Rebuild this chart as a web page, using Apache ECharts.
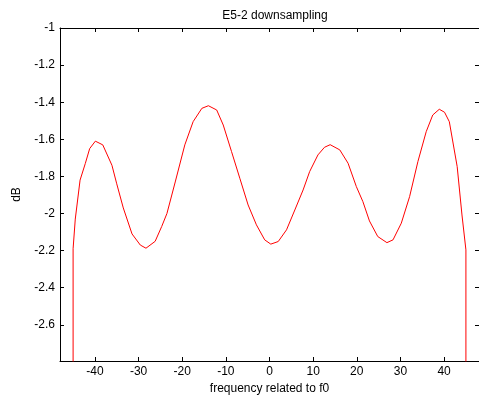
<!DOCTYPE html>
<html>
<head>
<meta charset="utf-8">
<script src="https://cdn.jsdelivr.net/npm/echarts@6/dist/echarts.min.js"></script>
<style>
html,body{margin:0;padding:0;background:#fff;}
#chart{width:479px;height:403px;}
</style>
</head>
<body>
<div id="chart"></div>
<script>
var freq = [-45, -45, -44.5, -43.4, -42.2, -41.2, -39.9, -38.2, -36.1, -35.0, -33.5, -31.5, -29.6, -28.3, -26.2, -24.7, -23.5, -21.6, -19.4, -17.5, -15.5, -14.0, -12.1, -10.6, -8.7, -6.8, -4.9, -3.0, -1.1, 0.3, 2.0, 3.9, 5.8, 7.7, 9.2, 11.1, 12.6, 13.9, 16.1, 18.0, 19.9, 21.4, 22.9, 24.8, 26.9, 28.3, 30.2, 32.1, 34.0, 35.9, 37.4, 38.9, 40.1, 41.2, 43.0, 44.1, 45.0, 45.0];
var dB = [-3.5, -2.19, -2.03, -1.82, -1.73, -1.65, -1.61, -1.63, -1.74, -1.84, -1.97, -2.11, -2.17, -2.187, -2.15, -2.07, -2.0, -1.83, -1.63, -1.505, -1.433, -1.419, -1.442, -1.523, -1.666, -1.81, -1.954, -2.061, -2.142, -2.165, -2.151, -2.088, -1.981, -1.873, -1.774, -1.684, -1.643, -1.629, -1.657, -1.729, -1.855, -1.936, -2.04, -2.124, -2.157, -2.142, -2.052, -1.909, -1.72, -1.559, -1.469, -1.438, -1.454, -1.505, -1.747, -2.008, -2.196, -3.5];
var xTicks = [-40, -30, -20, -10, 0, 10, 20, 30, 40];
var yTicks = [-1, -1.2, -1.4, -1.6, -1.8, -2, -2.2, -2.4, -2.6];
var titleText = 'E5-2 downsampling';
var xName = 'frequency related to f0';
var yName = 'dB';

var FONT = 'Liberation Sans, Arial, sans-serif';
var data = freq.map(function (f, i) { return [f, dB[i]]; });

var chart = echarts.init(document.getElementById('chart'), null, {renderer: 'canvas'});
var axisLineStyle = {show: true, onZero: false, lineStyle: {color: '#000', width: 1}};
var tickStyle = {show: true, inside: true, length: 4, lineStyle: {color: '#000', width: 1}};
chart.setOption({
  animation: false,
  backgroundColor: '#fff',
  title: {
    text: titleText, left: 270, top: 5, textAlign: 'center',
    textStyle: {fontFamily: FONT, fontSize: 12, fontWeight: 'normal', color: '#000'}
  },
  grid: {left: 60, top: 28, width: 420, height: 333, containLabel: false},
  xAxis: [{
    type: 'value', min: -48, max: 48, position: 'bottom',
    name: xName, nameLocation: 'middle', nameGap: 20,
    nameTextStyle: {fontFamily: FONT, fontSize: 12, color: '#000'},
    axisLine: axisLineStyle,
    axisTick: Object.assign({customValues: xTicks}, tickStyle),
    axisLabel: {customValues: xTicks, margin: 5, fontFamily: FONT, fontSize: 12, color: '#000'},
    splitLine: {show: false}
  }, {
    type: 'value', min: -48, max: 48, position: 'top',
    axisLine: axisLineStyle,
    axisTick: Object.assign({customValues: xTicks}, tickStyle),
    axisLabel: {show: false},
    splitLine: {show: false}
  }],
  yAxis: [{
    type: 'value', min: -2.795, max: -1, position: 'left',
    name: yName, nameLocation: 'middle', nameGap: 37, nameRotate: 90,
    nameTextStyle: {fontFamily: FONT, fontSize: 12, color: '#000'},
    axisLine: axisLineStyle,
    axisTick: Object.assign({customValues: yTicks}, tickStyle),
    axisLabel: {customValues: yTicks, margin: 5, fontFamily: FONT, fontSize: 12, color: '#000',
      formatter: function (v) { return String(Math.round(v * 10) / 10); }},
    splitLine: {show: false}
  }, {
    type: 'value', min: -2.795, max: -1, position: 'right',
    axisLine: axisLineStyle,
    axisTick: Object.assign({customValues: yTicks}, tickStyle),
    axisLabel: {show: false},
    splitLine: {show: false}
  }],
  series: [{
    type: 'line', data: data, xAxisIndex: 0, yAxisIndex: 0,
    showSymbol: false, smooth: false, clip: true,
    lineStyle: {color: '#ff0000', width: 1}
  }]
});
</script>
</body>
</html>
